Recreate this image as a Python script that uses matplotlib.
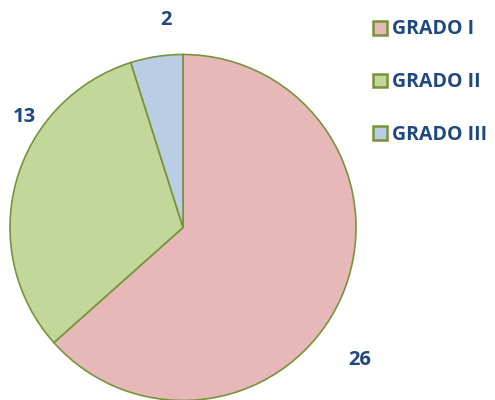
import matplotlib.pyplot as plt

# datos
grados = ['GRADO I', 'GRADO II', 'GRADO III']
valores = [26, 13, 2]
colores = ['#E6B9B8', '#C4D79B', '#B9CDE5']

plt.rcParams['font.family'] = ['Open Sans', 'DejaVu Sans']
azul = '#1F497D'

fig = plt.figure(figsize=(4.95, 4.0), dpi=100)
ax = fig.add_axes([0, 0, 1, 1])

cuñas, textos = ax.pie(valores, colors=colores, startangle=90, counterclock=False,
                       center=(183, 172.5), radius=173, labels=[str(v) for v in valores],
                       wedgeprops=dict(edgecolor='#77933C', linewidth=1.2),
                       textprops=dict(color=azul, fontsize=14.5, fontweight='bold'))

# posiciones de las etiquetas (como en el original)
pos = [(360, 40), (24, 283), (166, 380)]
for t, p in zip(textos, pos):
    t.set_position(p)
    t.set_ha('center')
    t.set_va('center')

ax.set_xlim(0, 495)
ax.set_ylim(0, 400)
ax.set_aspect('equal')
ax.axis('off')

leg = ax.legend(cuñas, grados, loc='upper left', bbox_to_anchor=(373 / 495, 1 - 19.5 / 400),
                frameon=False, prop=dict(size=14, weight='bold'), labelspacing=1.68,
                handlelength=0.7, handleheight=0.7, handletextpad=0.28, borderpad=0,
                borderaxespad=0)
for t in leg.get_texts():
    t.set_color(azul)
for h in leg.legend_handles:
    h.set_linewidth(1.8)

fig.savefig('out.png', dpi=100)
